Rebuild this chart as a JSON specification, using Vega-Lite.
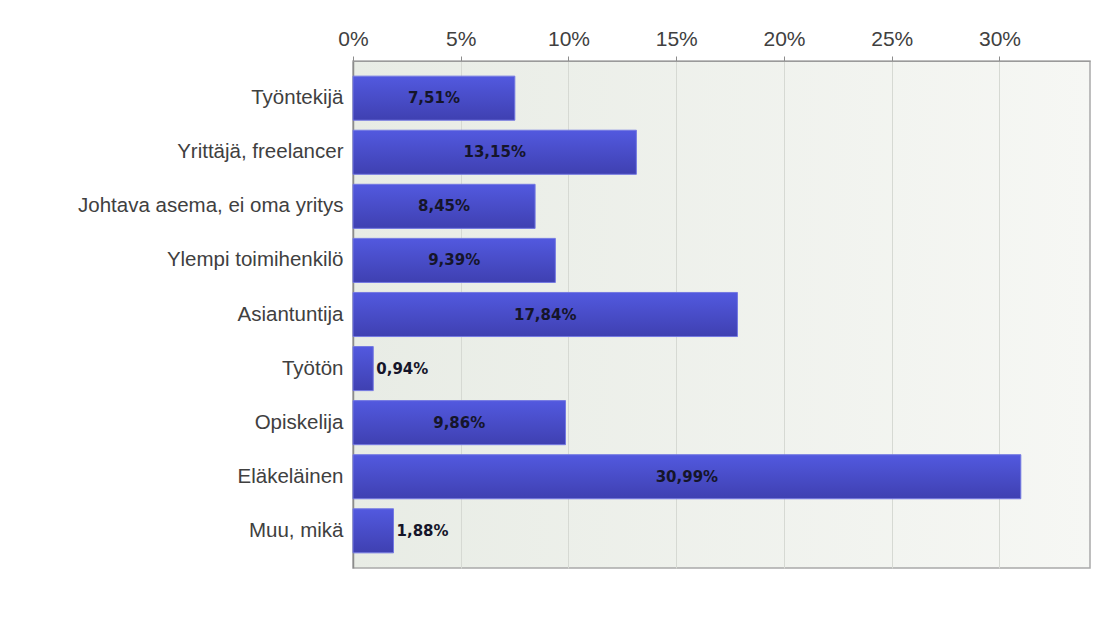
{
  "$schema": "https://vega.github.io/schema/vega-lite/v6.json",
  "width": 737,
  "height": 507,
  "autosize": {"type": "none"},
  "padding": {"left": 353, "top": 61, "right": 17, "bottom": 62},
  "background": "#ffffff",
  "config": {
    "locale": {"number": {"decimal": ",", "thousands": " ", "grouping": [3], "currency": ["", " €"]}},
    "view": {
      "stroke": "#a9a9a9",
      "strokeWidth": 1.5,
      "fill": {"gradient": "linear", "x1": 0, "y1": 0, "x2": 1, "y2": 0,
        "stops": [{"offset": 0, "color": "#e8ece5"}, {"offset": 1, "color": "#f6f7f4"}]}
    },
    "font": "Liberation Sans"
  },
  "data": {
    "values": [
      {"category": "Työntekijä", "value": 0.0751},
      {"category": "Yrittäjä, freelancer", "value": 0.1315},
      {"category": "Johtava asema, ei oma yritys", "value": 0.0845},
      {"category": "Ylempi toimihenkilö", "value": 0.0939},
      {"category": "Asiantuntija", "value": 0.1784},
      {"category": "Työtön", "value": 0.0094},
      {"category": "Opiskelija", "value": 0.0986},
      {"category": "Eläkeläinen", "value": 0.3099},
      {"category": "Muu, mikä", "value": 0.0188}
    ]
  },
  "encoding": {
    "y": {
      "field": "category", "type": "nominal", "sort": null, "title": null,
      "scale": {"paddingInner": 0.185, "paddingOuter": 0.28},
      "axis": {
        "ticks": false, "labelPadding": 10, "labelFontSize": 20.5, "labelColor": "#404040",
        "labelFont": "Liberation Sans", "domainColor": "#8c8c8c", "domainWidth": 1.5, "labelLimit": 345
      }
    }
  },
  "layer": [
    {
      "mark": {
        "type": "bar",
        "color": {"gradient": "linear", "x1": 0, "y1": 0, "x2": 0, "y2": 1,
          "stops": [{"offset": 0, "color": "#5259df"}, {"offset": 1, "color": "#3f40b1"}]},
        "stroke": "#7479e2",
        "strokeWidth": 1
      },
      "encoding": {
        "x": {
          "field": "value", "type": "quantitative", "title": null,
          "scale": {"domain": [0, 0.342], "nice": false},
          "axis": {
            "orient": "top", "format": ".0%", "values": [0, 0.05, 0.1, 0.15, 0.2, 0.25, 0.3],
            "labelFontSize": 21, "labelColor": "#404040", "labelFont": "Liberation Sans",
            "labelFlush": false, "labelOverlap": false,
            "tickColor": "#8c8c8c", "tickSize": 5, "labelPadding": 7,
            "domainColor": "#9a9a9a", "domain": true,
            "grid": true, "gridColor": "#d6d9d3", "gridWidth": 1
          }
        }
      }
    },
    {
      "transform": [{"filter": "datum.value > 0.03"}, {"calculate": "datum.value / 2", "as": "mid"}],
      "mark": {"type": "text", "align": "center", "baseline": "middle", "fontSize": 15, "fontWeight": "bold", "font": "DejaVu Sans", "color": "#15152a"},
      "encoding": {
        "x": {"field": "mid", "type": "quantitative"},
        "text": {"field": "value", "type": "quantitative", "format": ".2%"}
      }
    },
    {
      "transform": [{"filter": "datum.value <= 0.03"}],
      "mark": {"type": "text", "align": "left", "baseline": "middle", "dx": 3, "fontSize": 15, "fontWeight": "bold", "font": "DejaVu Sans", "color": "#15152a"},
      "encoding": {
        "x": {"field": "value", "type": "quantitative"},
        "text": {"field": "value", "type": "quantitative", "format": ".2%"}
      }
    }
  ]
}
